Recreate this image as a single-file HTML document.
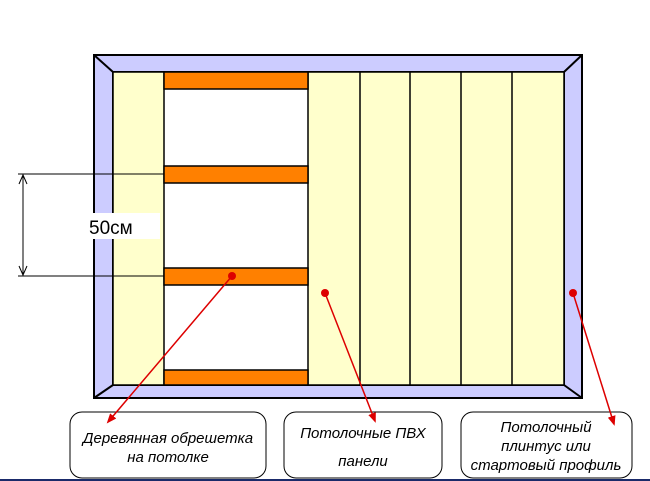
<!DOCTYPE html>
<html><head><meta charset="utf-8"><style>
body{margin:0;background:#fff;}
svg{display:block}
text{font-family:"Liberation Sans",sans-serif;}
</style></head><body>
<svg width="650" height="481" viewBox="0 0 650 481">
<defs><marker id="a" markerWidth="10" markerHeight="8" refX="8" refY="4" orient="auto" markerUnits="userSpaceOnUse"><path d="M0,0 L10,4 L0,8 Z" fill="#d00"/></marker></defs>
<path d="M94,55 L582,55 L582,398 L94,398 Z M113,72 L113,385 L564,385 L564,72 Z" fill="#ccccff" fill-rule="evenodd" stroke="#000" stroke-width="2"/>
<line x1="94" y1="55" x2="113" y2="72" stroke="#000" stroke-width="2"/>
<line x1="582" y1="55" x2="564" y2="72" stroke="#000" stroke-width="2"/>
<line x1="94" y1="398" x2="113" y2="385" stroke="#000" stroke-width="2"/>
<line x1="582" y1="398" x2="564" y2="385" stroke="#000" stroke-width="2"/>
<rect x="113" y="72" width="451" height="313" fill="#ffffcc" stroke="#000" stroke-width="1.5"/>
<rect x="164" y="72" width="144" height="313" fill="#fff" stroke="#000" stroke-width="1.5"/>
<g stroke="#000" stroke-width="1.5">
<line x1="360" y1="72" x2="360" y2="385"/><line x1="410" y1="72" x2="410" y2="385"/>
<line x1="461" y1="72" x2="461" y2="385"/><line x1="512" y1="72" x2="512" y2="385"/>
</g>
<g fill="#ff8000" stroke="#000" stroke-width="1.5">
<rect x="164" y="72" width="144" height="17"/>
<rect x="164" y="166" width="144" height="17"/>
<rect x="164" y="268" width="144" height="17"/>
<rect x="164" y="370" width="144" height="15"/>
</g>
<g stroke="#000" stroke-width="1" fill="none">
<line x1="18" y1="174" x2="164" y2="174"/><line x1="18" y1="276" x2="164" y2="276"/>
<line x1="23" y1="174" x2="23" y2="276"/>
<path d="M19,184 L23,175 L27,184 M19,266 L23,275 L27,266"/>
</g>
<rect x="86" y="213" width="74" height="26" fill="#fff"/>
<text x="89" y="234" font-size="19" fill="#000">50см</text>
<g fill="#fff" stroke="#000" stroke-width="1">
<rect x="70" y="412" width="196" height="66" rx="12"/>
<rect x="284" y="412" width="158" height="66" rx="12"/>
<rect x="461" y="412" width="171" height="66" rx="12"/>
</g>
<g stroke="#d00" stroke-width="1.5" fill="#d00">
<line x1="232" y1="276" x2="108" y2="422" marker-end="url(#a)"/>
<line x1="325" y1="293" x2="375" y2="421" marker-end="url(#a)"/>
<line x1="573" y1="293" x2="614" y2="424" marker-end="url(#a)"/>
<circle cx="232" cy="276" r="4" stroke="none"/>
<circle cx="325" cy="293" r="4" stroke="none"/>
<circle cx="573" cy="293" r="4" stroke="none"/>
</g>
<g font-size="15" font-style="italic" fill="#000" text-anchor="middle">
<text x="168" y="443">Деревянная обрешетка</text>
<text x="168" y="462">на потолке</text>
<text x="363" y="438">Потолочные ПВХ</text>
<text x="363" y="466">панели</text>
<text x="546" y="432">Потолочный</text>
<text x="546" y="451">плинтус или</text>
<text x="546" y="470">стартовый профиль</text>
</g>
<rect x="0" y="479" width="650" height="2" fill="#1a2a6a"/>
</svg>
</body></html>
